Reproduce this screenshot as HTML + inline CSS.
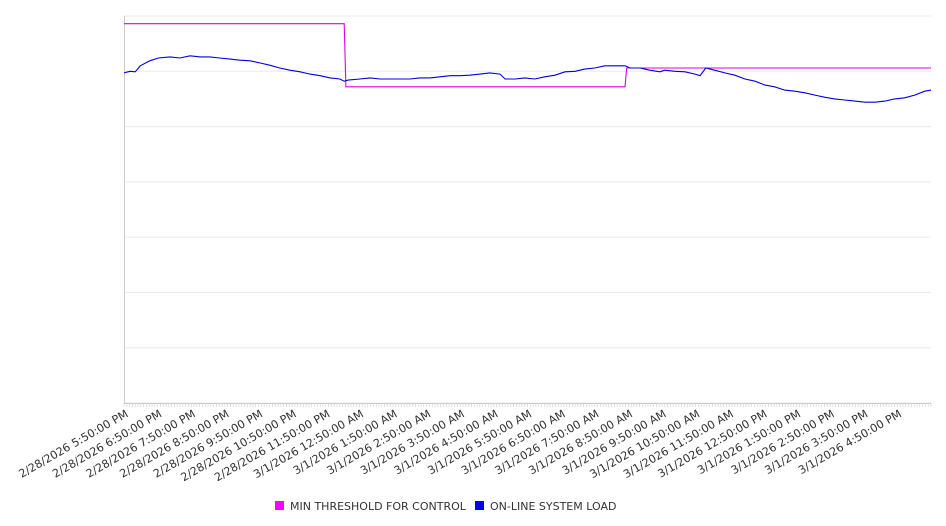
<!DOCTYPE html>
<html><head><meta charset="utf-8"><style>
html,body{margin:0;padding:0;background:#fff;width:946px;height:526px;overflow:hidden}
svg{font-family:"DejaVu Sans","Liberation Sans",sans-serif}
</style></head><body>
<svg id="chart" width="946" height="526" viewBox="0 0 946 526"></svg>
<script>
const tickLabels=["2/28/2026 5:50:00 PM","2/28/2026 6:50:00 PM","2/28/2026 7:50:00 PM","2/28/2026 8:50:00 PM","2/28/2026 9:50:00 PM","2/28/2026 10:50:00 PM","2/28/2026 11:50:00 PM","3/1/2026 12:50:00 AM","3/1/2026 1:50:00 AM","3/1/2026 2:50:00 AM","3/1/2026 3:50:00 AM","3/1/2026 4:50:00 AM","3/1/2026 5:50:00 AM","3/1/2026 6:50:00 AM","3/1/2026 7:50:00 AM","3/1/2026 8:50:00 AM","3/1/2026 9:50:00 AM","3/1/2026 10:50:00 AM","3/1/2026 11:50:00 AM","3/1/2026 12:50:00 PM","3/1/2026 1:50:00 PM","3/1/2026 2:50:00 PM","3/1/2026 3:50:00 PM","3/1/2026 4:50:00 PM"];
const thrTimes=[0,393,396,894,897,1440];
const thrValues=[6.86,6.86,5.72,5.72,6.06,6.06];
const loadTimes=[0,11,20,29,46,61,82,100,118,136,153,171,189,207,225,243,260,278,296,314,332,350,368,385,393,400,421,439,457,475,492,510,528,546,564,582,599,617,635,653,671,680,698,715,733,751,769,787,805,822,840,858,876,894,903,921,938,956,965,983,1001,1019,1028,1038,1054,1072,1090,1108,1126,1144,1161,1179,1197,1215,1233,1251,1268,1286,1304,1322,1340,1358,1375,1393,1411,1429,1440];
const loadValues=[5.97,6.00,5.99,6.10,6.19,6.24,6.26,6.24,6.28,6.26,6.26,6.24,6.22,6.20,6.19,6.15,6.11,6.06,6.02,5.99,5.95,5.92,5.88,5.86,5.82,5.84,5.86,5.88,5.86,5.86,5.86,5.86,5.88,5.88,5.90,5.92,5.92,5.93,5.95,5.97,5.95,5.86,5.86,5.88,5.86,5.90,5.93,5.99,6.00,6.04,6.06,6.10,6.10,6.10,6.06,6.06,6.02,5.99,6.02,6.00,5.99,5.95,5.92,6.06,6.02,5.97,5.93,5.86,5.82,5.75,5.72,5.66,5.64,5.61,5.57,5.53,5.50,5.48,5.46,5.44,5.44,5.46,5.50,5.52,5.57,5.64,5.66];
const yMax=7, x0=124,x1=931,y0=403,y1=16;
const sx=t=>x0+(t/1440)*(x1-x0);
const sy=v=>y0-(v/yMax)*(y0-y1);
const NS="http://www.w3.org/2000/svg";
const svg=document.getElementById('chart');
function mk(tag,attrs){const e=document.createElementNS(NS,tag);for(const k in attrs)e.setAttribute(k,attrs[k]);svg.appendChild(e);return e;}
for(let i=0;i<=yMax;i++){
 const g=mk('line',{x1:x0,x2:x1,y1:sy(i),y2:sy(i),stroke:'#ebebeb','stroke-width':1});
 
 
}
const ax=mk('line',{x1:x0+0.5,x2:x0+0.5,y1:y1,y2:y0,stroke:'#ccc'});


const xa=mk('line',{x1:x0,x2:x1,y1:y0+0.5,y2:y0+0.5,stroke:'#ccc'});


for(let m=0;m<=1440;m+=5){
 const t=mk('line',{x1:sx(m),x2:sx(m),y1:y0,y2:y0+4,stroke:'#ccc','stroke-width':0.6});
 
 
}
tickLabels.forEach((l,i)=>{
 const x=sx(i*60)+5,y=y0+13;
 const t=mk('text',{x:x,y:y,'text-anchor':'end','font-size':11.2,fill:'#333',transform:`rotate(-30 ${x} ${y})`});
 t.textContent=l;
 
 
});
function line(ts,vs,color,name){
 const d=ts.map((t,i)=>(i?'L':'M')+sx(t).toFixed(1)+' '+sy(vs[i]).toFixed(1)).join(' ');
 const p=mk('path',{d:d,fill:'none',stroke:color,'stroke-width':1.1});
 
 
}
line(thrTimes,thrValues,'#e000e0','threshold-line');
line(loadTimes,loadValues,'#0000dd','load-line');
const lg=[[275,'#ff00ff','MIN THRESHOLD FOR CONTROL','legend-threshold'],[475,'#0000ff','ON-LINE SYSTEM LOAD','legend-load']];
lg.forEach(a=>{
 const r=mk('rect',{x:a[0],y:501,width:9,height:9,fill:a[1]});
 
 
 const t=mk('text',{x:a[0]+15,y:510,'font-size':11,fill:'#333'});
 t.textContent=a[2];
 
 
});
</script>
</body></html>
